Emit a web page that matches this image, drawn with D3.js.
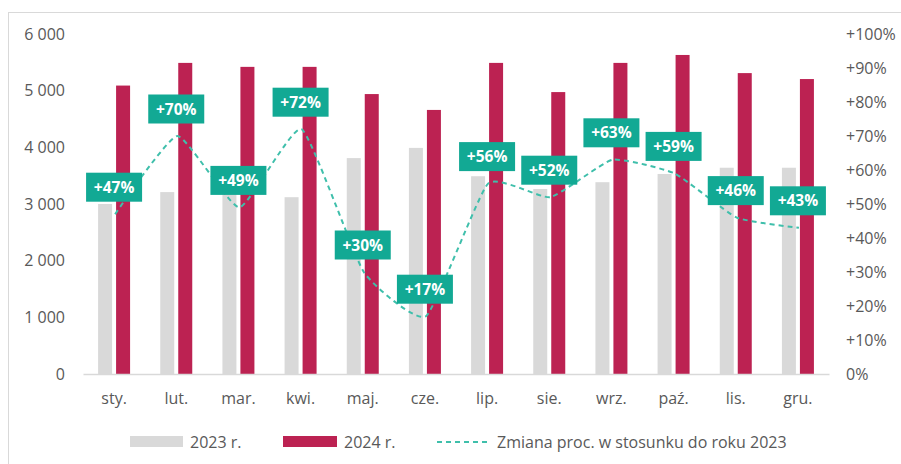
<!DOCTYPE html>
<html>
  <head>
    <meta charset="utf-8">
    <title>2023 vs 2024</title>
    <script src="https://cdn.jsdelivr.net/npm/d3@7"></script>
    <style>
      body { margin: 0; background: #fff; }
      svg text { font-family: "Open Sans", sans-serif; fill: #595959; }
      .lbl text { fill: #fff; font-weight: bold; }
    </style>
  </head>
  <body>
    <svg id="chart" width="901" height="464"></svg>

    <script>
      // data
      months = ["sty.", "lut.", "mar.", "kwi.", "maj.", "cze.", "lip.", "sie.", "wrz.", "paź.", "lis.", "gru."];
      values2023 = [3000, 3210, 3650, 3120, 3810, 3990, 3490, 3265, 3385, 3530, 3640, 3640];
      values2024 = [5090, 5490, 5420, 5420, 4940, 4660, 5490, 4975, 5490, 5630, 5310, 5205];
      change = [47, 70, 49, 72, 30, 17, 56, 52, 63, 59, 46, 43];
      leftTicks = [0, 1000, 2000, 3000, 4000, 5000, 6000];
      rightTicks = [0, 10, 20, 30, 40, 50, 60, 70, 80, 90, 100];

      grey = "#d9d9d9";
      red = "#bc2252";
      teal = "#12a994";
      lineTeal = "#3fbfab";

      svg = d3.select("#chart");

      // frame
      svg.append("rect")
        .attr("x", 8.5).attr("y", 12.5)
        .attr("width", 1000).attr("height", 600)
        .attr("fill", "none").attr("stroke", "#d9d9d9");

      x = d3.scaleBand().domain(months).range([83, 829]);
      y = d3.scaleLinear().domain([0, 6000]).range([374, 34]);
      yr = d3.scaleLinear().domain([0, 100]).range([374, 34]);
      barW = 14;

      // left axis labels
      svg.append("g")
        .attr("transform", "translate(65,0)")
        .call(d3.axisLeft(y).tickValues(leftTicks).tickSize(0).tickPadding(0)
          .tickFormat(function(d) { return d3.format(",")(d).replace(",", " "); }))
        .call(function(g) { g.select(".domain").remove(); })
        .selectAll("text").style("font-size", "16px").attr("fill", "#595959");

      // right axis labels
      svg.append("g")
        .attr("transform", "translate(846,0)")
        .call(d3.axisRight(yr).tickValues(rightTicks).tickSize(0).tickPadding(0)
          .tickFormat(function(d) { return d == 0 ? "0%" : "+" + d + "%"; }))
        .call(function(g) { g.select(".domain").remove(); })
        .selectAll("text").style("font-size", "16px").attr("fill", "#595959");

      // bars
      svg.append("g").selectAll("rect")
        .data(values2023)
        .join("rect")
          .attr("x", function(d, i) { return x(months[i]) + x.bandwidth() / 2 - 2 - barW; })
          .attr("y", function(d) { return y(d); })
          .attr("width", barW)
          .attr("height", function(d) { return y(0) - y(d); })
          .attr("fill", grey);
      svg.append("g").selectAll("rect")
        .data(values2024)
        .join("rect")
          .attr("x", function(d, i) { return x(months[i]) + x.bandwidth() / 2 + 2; })
          .attr("y", function(d) { return y(d); })
          .attr("width", barW)
          .attr("height", function(d) { return y(0) - y(d); })
          .attr("fill", red);

      // x axis
      svg.append("g")
        .attr("transform", "translate(0,374)")
        .call(d3.axisBottom(x).tickSize(0).tickPadding(19))
        .call(function(g) { g.select(".domain").attr("stroke", "#d9d9d9").attr("stroke-width", 1.5); })
        .selectAll("text").style("font-size", "16px").attr("fill", "#595959");

      // change line
      line = d3.line()
        .x(function(d, i) { return x(months[i]) + x.bandwidth() / 2 + 1; })
        .y(function(d) { return yr(d); })
        .curve(d3.curveCardinal.tension(0.55));
      svg.append("path")
        .datum(change)
        .attr("d", line)
        .attr("fill", "none")
        .attr("stroke", lineTeal)
        .attr("stroke-width", 2)
        .attr("stroke-dasharray", "5,4");

      // labels
      labels = svg.append("g").attr("class", "lbl").selectAll("g")
        .data(change)
        .join("g")
          .attr("transform", function(d, i) {
            return "translate(" + (x(months[i]) + x.bandwidth() / 2) + "," + (yr(d) - 27) + ")";
          });
      labels.append("rect")
        .attr("x", -28).attr("y", -14.5)
        .attr("width", 56).attr("height", 29)
        .attr("fill", teal);
      labels.append("text")
        .attr("text-anchor", "middle")
        .attr("dy", "0.36em")
        .style("font-size", "15.5px")
        .text(function(d) { return "+" + d + "%"; });

      // legend
      legend = svg.append("g").attr("transform", "translate(0,442)");
      legend.append("rect").attr("x", 130).attr("y", -6).attr("width", 53).attr("height", 11).attr("fill", grey);
      legend.append("text").attr("x", 190).attr("dy", "0.36em").style("font-size", "16px").text("2023 r.");
      legend.append("rect").attr("x", 283).attr("y", -6).attr("width", 54).attr("height", 11).attr("fill", red);
      legend.append("text").attr("x", 344).attr("dy", "0.36em").style("font-size", "16px").text("2024 r.");
      legend.append("line").attr("x1", 437).attr("x2", 487).attr("y1", 0).attr("y2", 0)
        .attr("stroke", lineTeal).attr("stroke-width", 2).attr("stroke-dasharray", "5,4");
      legend.append("text").attr("x", 497).attr("dy", "0.36em").style("font-size", "16px")
        .text("Zmiana proc. w stosunku do roku 2023");
    </script>
  </body>
</html>
